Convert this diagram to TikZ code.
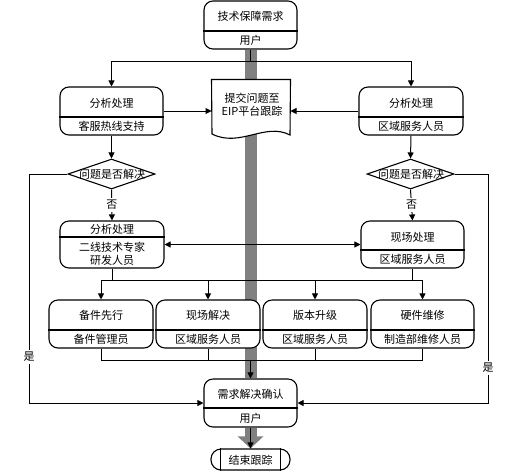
\documentclass[tikz,border=0pt]{standalone}
\usepackage{fontspec}
\setmainfont{Noto Sans CJK SC}
\usetikzlibrary{arrows.meta,shapes.geometric,backgrounds}

\begin{document}
\begin{tikzpicture}[x=1pt,y=-1pt,line width=1pt,
    box/.style={draw, line width=1.1pt, fill=white, rounded corners=9pt, inner sep=0pt},
    txt/.style={inner sep=0pt, align=center, font=\fontsize{11}{13}\selectfont},
    arr/.style={-{Triangle[length=6pt,width=6pt]}},
    arrs/.style={{Triangle[length=6pt,width=6pt]}-{Triangle[length=6pt,width=6pt]}},
    barcol/.style={color=black!50}]
        \useasboundingbox (0,0) rectangle (518,472);
        \node[box, minimum width=93pt, minimum height=48pt] (req) at (250.5,25) {};
        \draw[line width=1.1pt] (req.west |- 0,31) -- (req.east |- 0,31);
        \node[txt] (reqt) at (250.5,16) {技术保障需求};
        \node[txt] (reqs) at (250.5,40) {用户};
        \node[box, minimum width=103pt, minimum height=48pt] (lbox) at (111.5,111) {};
        \draw[line width=1.1pt] (lbox.west |- 0,117) -- (lbox.east |- 0,117);
        \node[txt] (lboxt) at (111.5,103) {分析处理};
        \node[txt] (lboxs) at (111.5,126) {客服热线支持};
        \node[box, minimum width=104pt, minimum height=48pt] (rbox) at (411,111) {};
        \draw[line width=1.1pt] (rbox.west |- 0,117) -- (rbox.east |- 0,117);
        \node[txt] (rboxt) at (411,103) {分析处理};
        \node[txt] (rboxs) at (411,126) {区域服务人员};
        \node[minimum width=78pt, minimum height=56pt, inner sep=0pt] (doc) at (251,108) {};
        \draw[line width=1.1pt, fill=white] (doc.north west) -- (doc.north east) -- (290,135)
        .. controls (265,122) and (240,148) .. (212,134) -- cycle;
        \node[txt] (doct) at (252,104.5) {提交问题至\\EIP平台跟踪};
        \node[draw, diamond, line width=1.1pt, fill=white, inner sep=0pt, minimum width=87pt, minimum height=30pt] (ldia) at (111.5,174) {};
        \node[txt] (ldiat) at (112,174) {问题是否解决};
        \node[draw, diamond, line width=1.1pt, fill=white, inner sep=0pt, minimum width=87pt, minimum height=30pt] (rdia) at (410.5,174) {};
        \node[txt] (rdiat) at (411,174) {问题是否解决};
        \node[box, minimum width=104pt, minimum height=47pt] (lbox2) at (112,244.5) {};
        \draw[line width=1.1pt] (lbox2.west |- 0,237) -- (lbox2.east |- 0,237);
        \node[txt] (lbox2t) at (112,229.5) {分析处理};
        \node[txt] (lbox2s) at (112,253.5) {二线技术专家\\研发人员};
        \node[box, minimum width=103pt, minimum height=47pt] (rbox2) at (412.5,244.5) {};
        \draw[line width=1.1pt] (rbox2.west |- 0,250) -- (rbox2.east |- 0,250);
        \node[txt] (rbox2t) at (412.5,237) {现场处理};
        \node[txt] (rbox2s) at (412.5,259) {区域服务人员};
        \node[box, minimum width=104pt, minimum height=48pt] (b1) at (101,324) {};
        \draw[line width=1.1pt] (b1.west |- 0,330) -- (b1.east |- 0,330);
        \node[txt] (b1t) at (101,315) {备件先行};
        \node[txt] (b1s) at (101,339) {备件管理员};
        \node[box, minimum width=104pt, minimum height=48pt] (b2) at (208,324) {};
        \draw[line width=1.1pt] (b2.west |- 0,330) -- (b2.east |- 0,330);
        \node[txt] (b2t) at (208,315) {现场解决};
        \node[txt] (b2s) at (208,339) {区域服务人员};
        \node[box, minimum width=104pt, minimum height=48pt] (b3) at (315,324) {};
        \draw[line width=1.1pt] (b3.west |- 0,330) -- (b3.east |- 0,330);
        \node[txt] (b3t) at (315,315) {版本升级};
        \node[txt] (b3s) at (315,339) {区域服务人员};
        \node[box, minimum width=103pt, minimum height=48pt] (b4) at (422.5,324) {};
        \draw[line width=1.1pt] (b4.west |- 0,330) -- (b4.east |- 0,330);
        \node[txt] (b4t) at (422.5,315) {硬件维修};
        \node[txt] (b4s) at (422.5,339) {制造部维修人员};
        \node[box, minimum width=93pt, minimum height=48pt] (confirm) at (250.5,403) {};
        \draw[line width=1.1pt] (confirm.west |- 0,408) -- (confirm.east |- 0,408);
        \node[txt] (confirmt) at (250.5,394) {需求解决确认};
        \node[txt] (confirms) at (250.5,418) {用户};
        \node[draw, line width=1.1pt, fill=white, rounded corners=10pt, minimum width=79pt, minimum height=21pt, inner sep=0pt] (stop) at (250.5,459.5) {};
        \draw[line width=1.1pt] ([xshift=10pt]stop.north west) -- ([xshift=10pt]stop.south west);
        \draw[line width=1.1pt] ([xshift=-10pt]stop.north east) -- ([xshift=-10pt]stop.south east);
        \node[txt] (stopt) at (250.5,460) {结束跟踪};
        \begin{scope}[on background layer]
        \draw[barcol, line width=12pt] (req.south) -- (confirm.north);
        \draw[barcol, line width=12pt, -{Triangle[length=12pt,width=25pt]}] (confirm.south) -- (stop.north);
        \end{scope}
        \draw[arr] (req.south) -- ++(0,12) -| (lbox.north);
        \draw[arr] (req.south) -- ++(0,12) -| (rbox.north);
        \draw[arr] (lbox.east) -- (lbox.east -| doc.west);
        \draw[arr] (rbox.west) -- (rbox.west -| doc.east);
        \draw[arr] (lbox.south) -- (ldia.north);
        \draw[arr] (rbox.south) -- (rdia.north);
        \draw[arr] (ldia.south) -- node[txt, fill=white, inner ysep=2pt] (lno) {否} (lbox2.north);
        \draw[arr] (rdia.south) -- node[txt, fill=white, inner ysep=2pt] (rno) {否} (rbox2.north);
        \draw[arrs] (lbox2.east) -- (lbox2.east -| rbox2.west);
        \draw (lbox2.south) -- (lbox2.south |- 0,280);
        \draw (rbox2.south) -- (rbox2.south |- 0,280);
        \draw (b1.north |- 0,280) -- (b4.north |- 0,280);
        \draw[arr] (b1.north |- 0,280) -- (b1.north);
        \draw[arr] (b2.north |- 0,280) -- (b2.north);
        \draw[arr] (b3.north |- 0,280) -- (b3.north);
        \draw[arr] (b4.north |- 0,280) -- (b4.north);
        \draw (b1.south) -- (b1.south |- 0,360);
        \draw (b2.south) -- (b2.south |- 0,360);
        \draw (b3.south) -- (b3.south |- 0,360);
        \draw (b4.south) -- (b4.south |- 0,360);
        \draw (b1.south |- 0,360) -- (b4.south |- 0,360);
        \draw[arr] (confirm.north |- 0,360) -- (confirm.north);
        \draw[arr] (confirm.south) -- (stop.north);
        \coordinate (lyes) at (29,403);
        \coordinate (ryes) at (488,403);
        \draw[arr] (ldia.west) -| (lyes) -- (confirm.west);
        \draw[arr] (rdia.east) -| (ryes) -- (confirm.east);
        \node[txt, fill=white, inner ysep=2pt] (lyest) at (29,357) {是};
        \node[txt, fill=white, inner ysep=2pt] (ryest) at (488,368) {是};
    \end{tikzpicture}
\end{document}
